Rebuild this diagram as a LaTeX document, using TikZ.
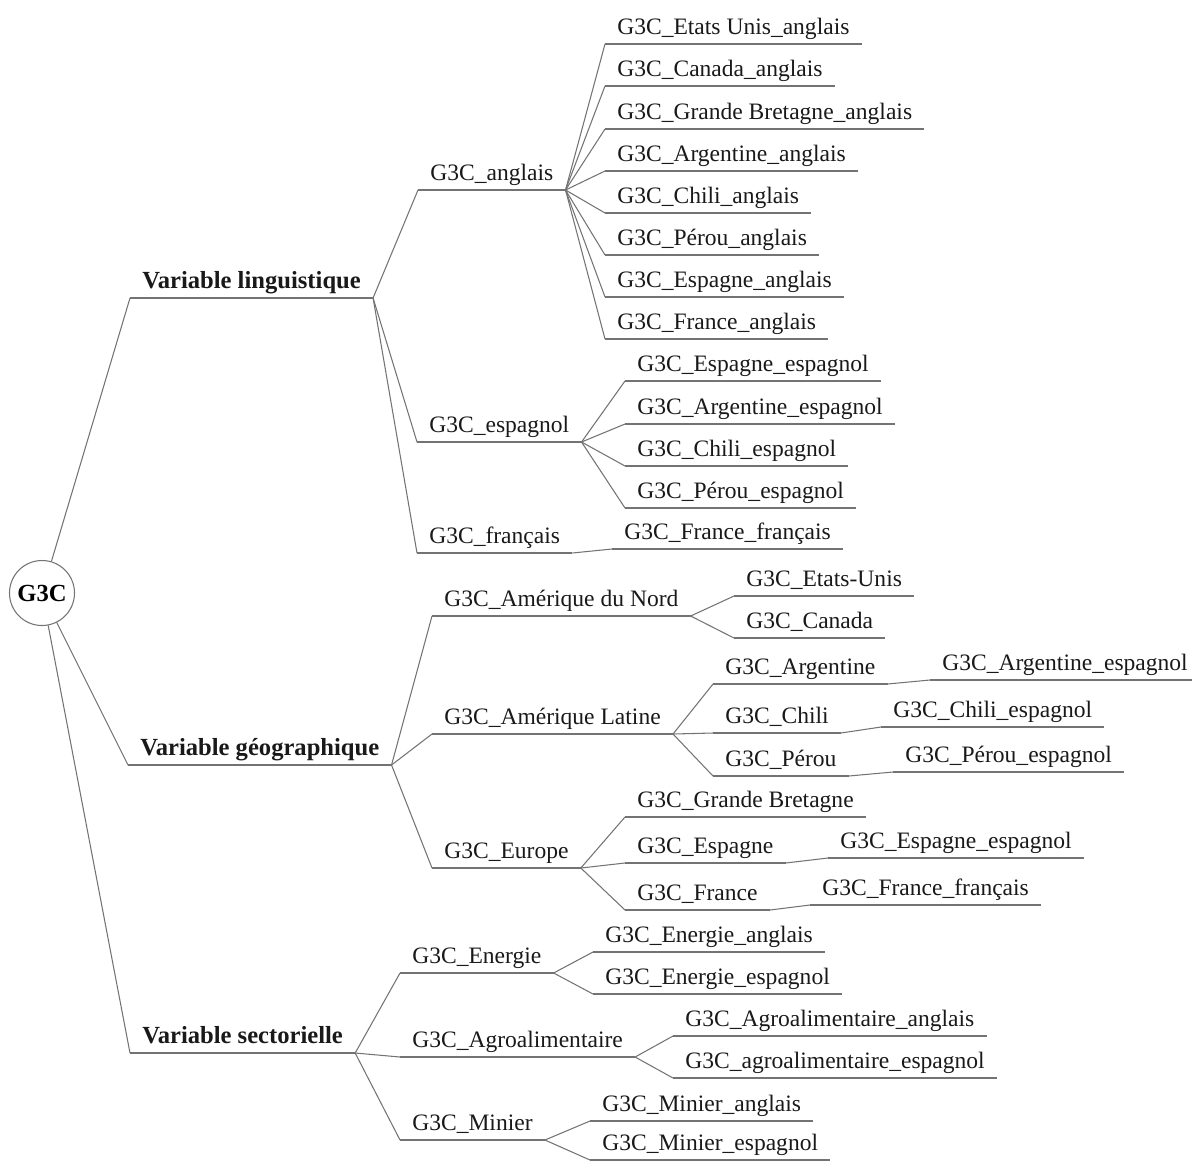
\documentclass[tikz,border=0pt]{standalone}
\usepackage{fontspec}
\setmainfont{Liberation Serif}
\tikzset{
  leaf/.style={anchor=south west, inner xsep=6.8pt, inner ysep=1pt, text height=9.5pt, text depth=4pt, text=black!90, font=\fontsize{13.4}{16}\selectfont},
  var/.style={leaf, font=\bfseries\fontsize{14}{17}\selectfont},
  link/.style={draw=black!55, line width=0.6pt},
}
\begin{document}
\begin{tikzpicture}[x=0.02cm, y=-0.02cm]
\useasboundingbox (0,0) rectangle (1192,1160);
\node[link, circle, minimum size=37pt, inner sep=0pt, font=\bfseries\fontsize{14}{17}\selectfont] (root) at (42,593) {G3C};
% premier niveau
\node[var] (vling) at (130,298) {Variable linguistique};
\node[var] (vgeo) at (128,765) {Variable géographique};
\node[var] (vsect) at (130,1053) {Variable sectorielle};
% langues
\node[leaf] (ang) at (418,190) {G3C\_anglais};
\node[leaf] (esp) at (417,442) {G3C\_espagnol};
\node[leaf] (fra) at (417,553) {G3C\_français};
\node[leaf] (ang-us) at (605,44) {G3C\_Etats Unis\_anglais};
\node[leaf] (ang-ca) at (605,86) {G3C\_Canada\_anglais};
\node[leaf] (ang-gb) at (605,129) {G3C\_Grande Bretagne\_anglais};
\node[leaf] (ang-ar) at (605,171) {G3C\_Argentine\_anglais};
\node[leaf] (ang-cl) at (605,213) {G3C\_Chili\_anglais};
\node[leaf] (ang-pe) at (605,255) {G3C\_Pérou\_anglais};
\node[leaf] (ang-es) at (605,297) {G3C\_Espagne\_anglais};
\node[leaf] (ang-fr) at (605,339) {G3C\_France\_anglais};
\node[leaf] (esp-es) at (625,381) {G3C\_Espagne\_espagnol};
\node[leaf] (esp-ar) at (625,424) {G3C\_Argentine\_espagnol};
\node[leaf] (esp-cl) at (625,466) {G3C\_Chili\_espagnol};
\node[leaf] (esp-pe) at (625,508) {G3C\_Pérou\_espagnol};
\node[leaf] (fra-fr) at (612,549) {G3C\_France\_français};
% zones
\node[leaf] (amn) at (432,616) {G3C\_Amérique du Nord};
\node[leaf] (aml) at (432,734) {G3C\_Amérique Latine};
\node[leaf] (eur) at (432,868) {G3C\_Europe};
\node[leaf] (us) at (734,596) {G3C\_Etats-Unis};
\node[leaf] (ca) at (734,638) {G3C\_Canada};
\node[leaf] (ar) at (713,684) {G3C\_Argentine};
\node[leaf] (cl) at (713,733) {G3C\_Chili};
\node[leaf] (pe) at (713,776) {G3C\_Pérou};
\node[leaf] (ar-es) at (930,680) {G3C\_Argentine\_espagnol};
\node[leaf] (cl-es) at (881,727) {G3C\_Chili\_espagnol};
\node[leaf] (pe-es) at (893,772) {G3C\_Pérou\_espagnol};
\node[leaf] (gb) at (625,817) {G3C\_Grande Bretagne};
\node[leaf] (es) at (625,863) {G3C\_Espagne};
\node[leaf] (fr) at (625,910) {G3C\_France};
\node[leaf] (es-es) at (828,858) {G3C\_Espagne\_espagnol};
\node[leaf] (fr-fr) at (810,905) {G3C\_France\_français};
% secteurs
\node[leaf] (ene) at (400,973) {G3C\_Energie};
\node[leaf] (agr) at (400,1057) {G3C\_Agroalimentaire};
\node[leaf] (min) at (400,1140) {G3C\_Minier};
\node[leaf] (ene-en) at (593,952) {G3C\_Energie\_anglais};
\node[leaf] (ene-es) at (593,994) {G3C\_Energie\_espagnol};
\node[leaf] (agr-en) at (673,1036) {G3C\_Agroalimentaire\_anglais};
\node[leaf] (agr-es) at (673,1078) {G3C\_agroalimentaire\_espagnol};
\node[leaf] (min-en) at (590,1121) {G3C\_Minier\_anglais};
\node[leaf] (min-es) at (590,1160) {G3C\_Minier\_espagnol};
% soulignements
\foreach \n in {vling,vgeo,vsect,ang,esp,fra,ang-us,ang-ca,ang-gb,ang-ar,ang-cl,ang-pe,ang-es,ang-fr,
  esp-es,esp-ar,esp-cl,esp-pe,fra-fr,amn,aml,eur,us,ca,ar,cl,pe,ar-es,cl-es,pe-es,gb,es,fr,es-es,fr-fr,
  ene,agr,min,ene-en,ene-es,agr-en,agr-es,min-en,min-es}
  \draw[link] (\n.south west) -- (\n.south east);
% branches
\foreach \n in {vling,vgeo,vsect}
  \draw[link] (root) -- (\n.south west);
\foreach \a/\b in {vling/ang,vling/esp,vling/fra,ang/ang-us,ang/ang-ca,ang/ang-gb,ang/ang-ar,ang/ang-cl,
  ang/ang-pe,ang/ang-es,ang/ang-fr,esp/esp-es,esp/esp-ar,esp/esp-cl,esp/esp-pe,fra/fra-fr,
  vgeo/amn,vgeo/aml,vgeo/eur,amn/us,amn/ca,aml/ar,aml/cl,aml/pe,ar/ar-es,cl/cl-es,pe/pe-es,
  eur/gb,eur/es,eur/fr,es/es-es,fr/fr-fr,vsect/ene,vsect/agr,vsect/min,ene/ene-en,ene/ene-es,
  agr/agr-en,agr/agr-es,min/min-en,min/min-es}
  \draw[link] (\a.south east) -- (\b.south west);
\end{tikzpicture}
\end{document}
